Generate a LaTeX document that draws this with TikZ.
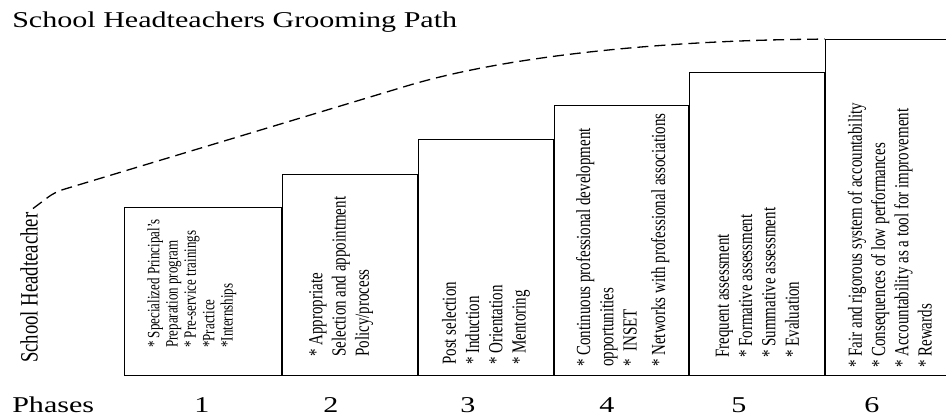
\documentclass[tikz,border=0pt]{standalone}
\usepackage{fontspec}
\setmainfont{Liberation Serif}
\usetikzlibrary{positioning}

\begin{document}
\begin{tikzpicture}[
  x=1pt,y=1pt,
  stage/.style={draw,line width=0.9pt,anchor=south west,inner sep=0pt},
  steptext/.style={xscale=1.33,rotate=90,anchor=north west,align=left,
                   inner sep=0pt,font=\fontsize{15}{17.5}\selectfont},
  phasetext/.style={xscale=1.33,anchor=base,inner sep=0pt,
                    font=\fontsize{22.6}{26}\selectfont},
  trendline/.style={line width=1.3pt,dash pattern=on 11pt off 6pt}]
  \useasboundingbox (0,0) rectangle (946,417);
  \node[phasetext,anchor=base west] (title) at (12,389) {School Headteachers Grooming Path};
  \node[steptext,font=\fontsize{18.7}{22}\selectfont] (head) at (20,54) {School Headteacher};
  % the six stages, each one taller than the one before
  \node[stage,minimum width=157,minimum height=168] (p1) at (124,41) {};
  \node[stage,minimum width=135,minimum height=201] (p2) at (p1.south east) {};
  \node[stage,minimum width=135,minimum height=236] (p3) at (p2.south east) {};
  \node[stage,minimum width=134,minimum height=270] (p4) at (p3.south east) {};
  \node[stage,minimum width=135,minimum height=303] (p5) at (p4.south east) {};
  \node[stage,minimum width=140,minimum height=336] (p6) at (p5.south east) {};
  \node[steptext,font=\fontsize{13}{13.8}\selectfont] (t1) at ([shift={(23,28)}]p1.south west)
    {* Specialized Principal’s\\Preparation program\\* Pre-service trainings\\*Practice\\*Internships};
  \node[steptext] (t2) at ([shift={(27,19)}]p2.south west)
    {* Appropriate\\Selection and appointment\\Policy/process};
  \node[steptext] (t3) at ([shift={(24,11)}]p3.south west)
    {Post selection\\* Induction\\* Orientation\\* Mentoring};
  \node[steptext] (t4) at ([shift={(22,9)}]p4.south west)
    {* Continuous professional development\\opportunities\\*~~INSET\\[4pt]* Networks with professional associations};
  \node[steptext] (t5) at ([shift={(27,18)}]p5.south west)
    {Frequent assessment\\* Formative assessment\\* Summative assessment\\* Evaluation};
  \node[steptext] (t6) at ([shift={(23,8)}]p6.south west)
    {* Fair and rigorous system of accountability\\* Consequences of low performances\\* Accountability as a tool for improvement\\* Rewards};
  % phase numbers
  \node[phasetext,anchor=base west] (phases) at (12,4) {Phases};
  \node[phasetext] (n1) at (202,4) {1};
  \node[phasetext] (n2) at (331,4) {2};
  \node[phasetext] (n3) at (468,4) {3};
  \node[phasetext] (n4) at (607,4) {4};
  \node[phasetext] (n5) at (739,4) {5};
  \node[phasetext] (n6) at (872,4) {6};
  \draw[trendline,rounded corners=8pt] ([shift={(4,4)}]head.east) -- (55,225) -- (400,329)
    .. controls (510,362) and (670,377) .. (p6.north west);
\end{tikzpicture}
\end{document}
